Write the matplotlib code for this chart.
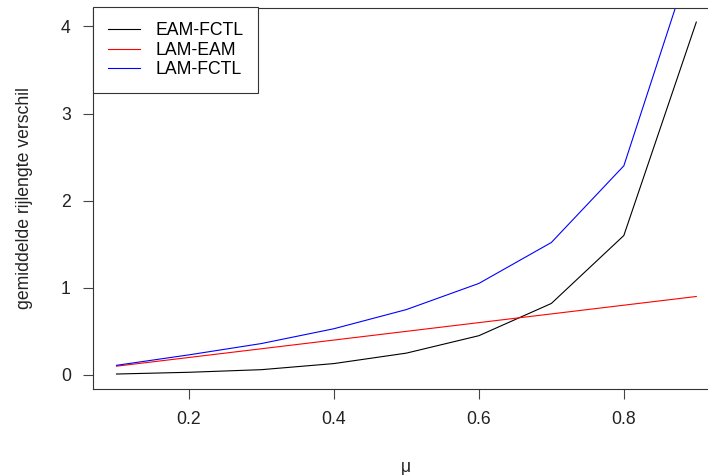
import matplotlib.pyplot as plt

# gegevens
mu = [0.1, 0.2, 0.3, 0.4, 0.5, 0.6, 0.7, 0.8, 0.9]
eam_fctl = [0.01, 0.03, 0.06, 0.13, 0.25, 0.45, 0.82, 1.60, 4.05]
lam_eam = [0.10, 0.20, 0.30, 0.40, 0.50, 0.60, 0.70, 0.80, 0.90]
lam_fctl = [0.11, 0.23, 0.36, 0.53, 0.75, 1.05, 1.52, 2.40, 4.95]

reeksen = ["EAM-FCTL", "LAM-EAM", "LAM-FCTL"]
kleuren = ["black", "red", "blue"]
x_ticks = [0.2, 0.4, 0.6, 0.8]
y_ticks = [0, 1, 2, 3, 4]

plt.rcParams['font.family'] = ['Liberation Sans', 'DejaVu Sans']
fs = 12.7

W, H = 708, 475
fig = plt.figure(figsize=(W / 100, H / 100), dpi=100)
# assen lopen rechts buiten de afbeelding door (zoals het origineel)
links, rechts, boven, onder = 93.3, 719.5, 8.0, 388.5
ax = fig.add_axes([links / W, 1 - onder / H, (rechts - links) / W, (onder - boven) / H])

for y, naam, kleur in zip([eam_fctl, lam_eam, lam_fctl], reeksen, kleuren):
    ax.plot(mu, y, color=kleur, lw=0.8, label=naam)

# R-stijl bereik: 4% uitbreiding
xr = max(mu) - min(mu)
ax.set_xlim(min(mu) - 0.04 * xr, max(mu) + 0.04 * xr)
yr = max(eam_fctl) - 0.0056
ax.set_ylim(0.0056 - 0.04 * yr, max(eam_fctl) + 0.04 * yr)

ax.set_xticks(x_ticks)
ax.set_xticklabels([f"{t:.1f}" for t in x_ticks])
ax.set_yticks(y_ticks)
ax.tick_params(direction='out', length=7.2, width=0.8, color='#444444',
               labelsize=fs, labelcolor='#222222', pad=9)
for s in ax.spines.values():
    s.set_linewidth(0.8)
    s.set_color('#333333')

ax.set_xlabel("μ", fontsize=fs, color='#222222', labelpad=22)
ax.set_ylabel("gemiddelde rijlengte verschil", fontsize=fs, color='#222222', labelpad=20)

leg = ax.legend(loc='upper left', bbox_to_anchor=(0, 1.002), borderaxespad=0,
                fontsize=fs, fancybox=False, framealpha=1, edgecolor='#333333',
                handlelength=1.8, handletextpad=0.85, borderpad=0.85,
                labelspacing=0.14)
leg.get_frame().set_linewidth(0.8)

fig.savefig("out.png", dpi=100)
